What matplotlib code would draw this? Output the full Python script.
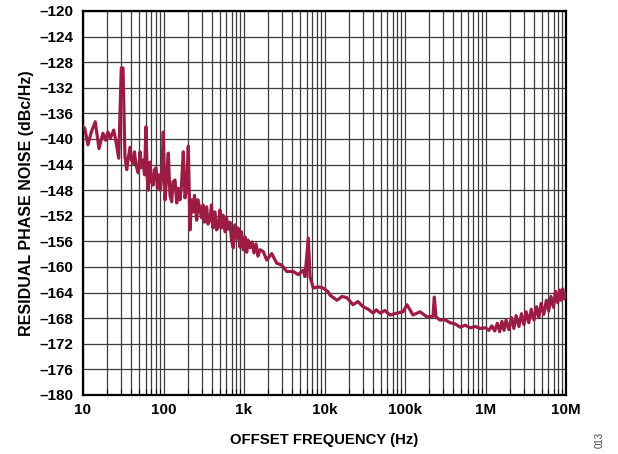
import matplotlib
matplotlib.use("Agg")
import matplotlib.pyplot as plt
from matplotlib.ticker import FixedLocator, FixedFormatter, NullFormatter

plt.rcParams['font.family'] = ['Liberation Sans', 'DejaVu Sans']

# Offset frequency (Hz) (groups of 10)
freq_hz = [
    10, 10.5, 11.5, 12.7, 14.2, 15.8, 17.7, 19.1, 20.4, 21.8,
    24.1, 25.5, 27.8, 29.9, 31.4, 33.2, 34.9, 36.2, 38.4, 40.0,
    42.2, 43.6, 45.5, 48.6, 51.1, 53.3, 55.7, 58.1, 60.6, 62.9,
    64.7, 68.0, 70.9, 74.7, 77.3, 80.7, 84.2, 87.9, 91.8, 95.8,
    99.4, 104.4, 109.0, 114.7, 120.4, 126.5, 131.2, 139.0, 145.9, 151.4,
    160.3, 167.3, 176.2, 185.0, 193.1, 203.3, 213.4, 222.7, 232.5, 242.7,
    258.5, 268.3, 284.0, 296.5, 309.6, 323.1, 344.1, 357.1, 378.0, 394.6,
    412.0, 436.3, 455.4, 479.4, 503.4, 525.4, 548.5, 580.8, 606.4, 638.3,
    670.0, 699.4, 736.4, 773.2, 811.7, 842.5, 891.7, 930.8, 980.2, 1029,
    1080, 1121, 1187, 1257, 1331, 1410, 1493, 1580, 1737, 1914,
    2209, 2549, 2940, 3392, 4097, 4726, 5453, 5725, 6294, 6606,
    7261, 8375, 9663, 11150, 11700, 14300, 16500, 19030, 22600, 26000,
    30080, 35000, 40040, 44000, 48920, 56000, 65130, 80000, 94450, 105900,
    125700, 153600, 187700, 222700, 231200, 242700, 272200, 310000, 362200, 420000,
    482200, 560000, 642100, 750000, 854700, 1000000, 1100000, 1200000, 1300000, 1400000,
    1500000, 1600000, 1700000, 1800000, 1950000, 2100000, 2250000, 2400000, 2600000, 2800000,
    3000000, 3200000, 3450000, 3700000, 4000000, 4300000, 4600000, 4900000, 5300000, 5700000,
    6100000, 6500000, 7000000, 7400000, 7900000, 8300000, 8700000, 9100000, 9500000, 10000000,
]
# Residual phase noise (dBc/Hz), same grouping
noise_dbc = [
    -138.1, -138.3, -140.9, -138.9, -137.3, -141.5, -139.1, -140.2, -138.9, -139.9,
    -138.6, -140.2, -143.0, -128.9, -128.9, -142.7, -144.8, -143.3, -141.3, -143.3,
    -143.8, -142.0, -144.1, -145.3, -142.0, -144.5, -143.3, -145.6, -138.1, -146.1,
    -148.0, -143.6, -146.7, -147.2, -144.8, -144.5, -147.7, -145.6, -148.0, -145.2,
    -138.9, -149.5, -146.4, -142.2, -148.8, -149.8, -146.7, -146.4, -150.0, -147.7,
    -149.5, -147.2, -142.0, -149.2, -148.0, -141.1, -154.2, -149.5, -151.4, -148.8,
    -152.7, -149.5, -151.1, -152.3, -150.3, -153.0, -150.6, -153.3, -152.7, -150.3,
    -153.9, -151.4, -154.2, -153.8, -151.1, -153.9, -151.9, -154.5, -152.3, -154.1,
    -153.0, -155.8, -157.0, -153.4, -155.5, -153.9, -156.9, -154.5, -157.3, -155.3,
    -157.7, -155.8, -157.0, -156.1, -157.8, -156.4, -158.3, -157.3, -157.6, -158.9,
    -157.9, -159.4, -159.7, -160.7, -160.7, -161.2, -160.5, -161.5, -155.5, -161.5,
    -163.3, -163.1, -163.3, -163.9, -164.4, -165.2, -164.6, -164.8, -165.9, -165.4,
    -166.2, -166.6, -167.2, -166.7, -167.2, -166.8, -167.5, -167.2, -167.0, -165.9,
    -167.5, -167.0, -167.8, -167.7, -164.7, -167.8, -168.3, -168.2, -168.7, -168.9,
    -169.4, -169.1, -169.5, -169.3, -169.6, -169.5, -169.9, -169.2, -170.0, -168.8,
    -170.1, -168.5, -169.9, -168.3, -169.8, -167.9, -169.6, -167.6, -169.3, -167.3,
    -169.0, -167.0, -168.7, -166.6, -168.3, -166.2, -167.9, -165.7, -167.4, -165.2,
    -166.9, -164.6, -166.3, -163.8, -165.6, -163.6, -165.2, -163.4, -165.0, -164.2,
]

x_ticks = [10, 100, 1e3, 1e4, 1e5, 1e6, 1e7]
x_tick_labels = ["10", "100", "1k", "10k", "100k", "1M", "10M"]
y_ticks = list(range(-180, -119, 4))
y_tick_labels = ["\u2013" + str(abs(v)) for v in y_ticks]

line_color = "#9c1c44"
grid_color = "#3c3c3c"

fig = plt.figure(figsize=(6.18, 4.54), dpi=100)
ax = fig.add_axes([83 / 618, 1 - 395 / 454, (566 - 83) / 618, (395 - 11) / 454])

ax.set_xscale("log")
ax.set_xlim(10, 1e7)
ax.set_ylim(-180, -120)

minor = [m * 10 ** e for e in range(1, 7) for m in range(2, 10)]
ax.xaxis.set_major_locator(FixedLocator(x_ticks))
ax.xaxis.set_major_formatter(FixedFormatter(x_tick_labels))
ax.xaxis.set_minor_locator(FixedLocator(minor))
ax.xaxis.set_minor_formatter(NullFormatter())
ax.set_yticks(y_ticks)
ax.set_yticklabels(y_tick_labels)

ax.grid(True, which="major", axis="both", color=grid_color, lw=0.9)
ax.grid(True, which="minor", axis="x", color=grid_color, lw=0.9)
ax.set_axisbelow(True)

ax.plot(freq_hz, noise_dbc, color=line_color, lw=2.3, solid_joinstyle="round", zorder=3)

for s in ax.spines.values():
    s.set_linewidth(1.6)
    s.set_color("black")

ax.tick_params(axis="both", which="major", direction="in", length=0, labelsize=11, pad=7)
ax.tick_params(axis="x", which="minor", direction="in", length=4, width=0.8, bottom=True)
ax.tick_params(axis="x", which="major", pad=6)
for lbl in ax.get_xticklabels() + ax.get_yticklabels():
    lbl.set_fontweight("bold")

ax.set_xlabel("OFFSET FREQUENCY (Hz)", fontsize=10.7, fontweight="bold", labelpad=11)
ax.set_ylabel("RESIDUAL PHASE NOISE (dBc/Hz)", fontsize=11.5, fontweight="bold", labelpad=4)

fig.text(600 / 618, 1 - 440 / 454, "013", rotation=90, fontsize=7, color="#444444",
         ha="center", va="center")

fig.savefig("out.png", dpi=100)
